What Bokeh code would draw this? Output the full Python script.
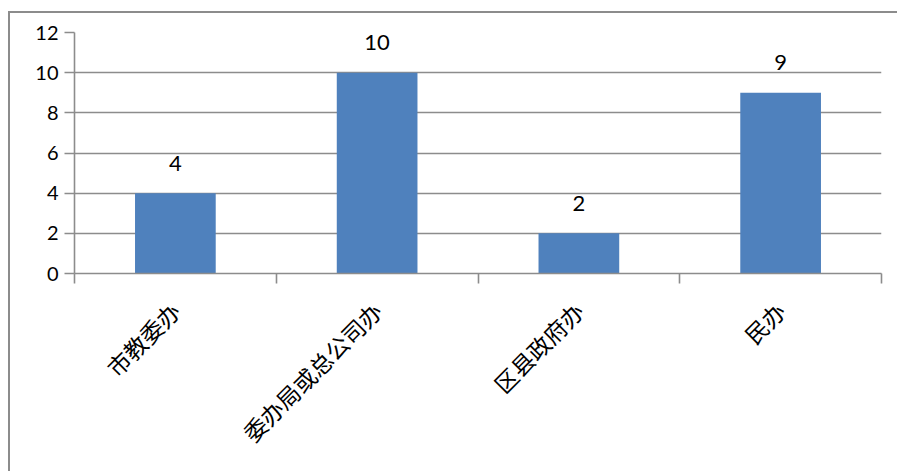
from bokeh.plotting import figure
from bokeh.models import ColumnDataSource, FixedTicker, Range1d, LabelSet
from bokeh.core.properties import value
from bokeh.embed import file_html
from bokeh.resources import INLINE
from math import pi

categories = ["市教委办", "委办局或总公司办", "区县政府办", "民办"]
values = [4, 10, 2, 9]
y_ticks = [0, 2, 4, 6, 8, 10, 12]

xs = [i + 0.5 for i in range(len(categories))]
src = ColumnDataSource(dict(x=xs, top=values, label=[str(v) for v in values]))

p = figure(width=889, height=460, output_backend="svg", toolbar_location=None,
           x_range=Range1d(0, len(categories)), y_range=Range1d(0, 12),
           min_border_left=64, min_border_right=18, min_border_top=19, min_border_bottom=200)
p.styles = {"margin-left": "8px", "margin-top": "11px",
            "border-left": "2px solid #8c8c8c", "border-top": "2px solid #8c8c8c"}
p.outline_line_color = None
p.background_fill_color = "white"
p.border_fill_color = "white"

p.vbar(x="x", top="top", width=0.4, bottom=0, source=src, fill_color="#4F81BD", line_color=None)

labels = LabelSet(x="x", y="top", text="label", source=src, y_offset=30,
                  text_align="center", text_baseline="middle",
                  text_font=value("Lato"), text_font_size="22px", text_color="black")
p.add_layout(labels)

p.xgrid.visible = False
p.ygrid.grid_line_color = "#8c8c8c"
p.ygrid.grid_line_width = 1.6
p.yaxis.ticker = FixedTicker(ticks=y_ticks)
p.yaxis.axis_line_color = "#8c8c8c"
p.yaxis.axis_line_width = 1.6
p.yaxis.major_tick_line_color = "#8c8c8c"
p.yaxis.major_tick_line_width = 1.6
p.yaxis.major_tick_out = 10
p.yaxis.major_tick_in = 0
p.yaxis.minor_tick_line_color = None
p.yaxis.major_label_text_font = "Lato"
p.yaxis.major_label_text_font_size = "20px"
p.yaxis.major_label_text_color = "black"
p.yaxis.major_label_standoff = 6

p.xaxis.ticker = FixedTicker(ticks=xs, minor_ticks=list(range(len(categories) + 1)))
p.xaxis.major_label_overrides = {x: c for x, c in zip(xs, categories)}
p.xaxis.major_label_orientation = pi / 4
p.xaxis.major_label_text_font = "Noto Sans CJK SC"
p.xaxis.major_label_text_font_size = "23px"
p.xaxis.major_label_text_color = "black"
p.xaxis.major_label_standoff = 23
p.xaxis.major_tick_out = 0
p.xaxis.major_tick_in = 0
p.xaxis.minor_tick_out = 10
p.xaxis.minor_tick_in = 0
p.xaxis.minor_tick_line_color = "#8c8c8c"
p.xaxis.minor_tick_line_width = 1.6
p.xaxis.axis_line_color = "#8c8c8c"
p.xaxis.axis_line_width = 1.6

open("out.html", "w").write(file_html(p, INLINE))
